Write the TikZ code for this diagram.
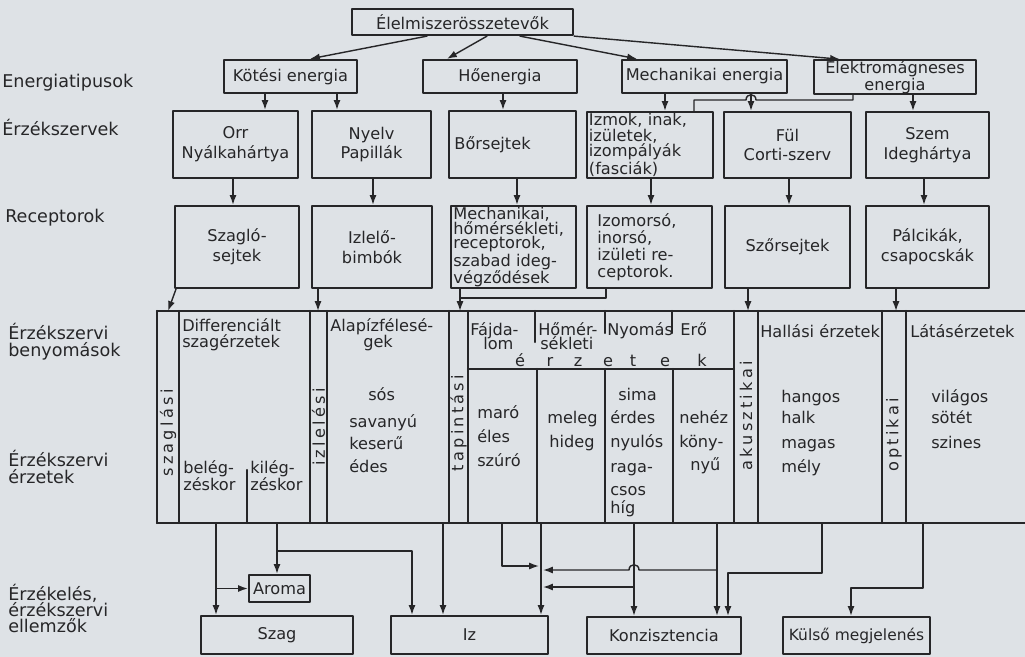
\documentclass[tikz,border=0pt]{standalone}
\usepackage{fontspec}
\setmainfont{DejaVu Sans}
\newfontfamily\spreadfont[LetterSpace=20]{DejaVu Sans}
\usetikzlibrary{arrows.meta}
\definecolor{paper}{RGB}{222,226,230}
\definecolor{ink}{RGB}{38,38,40}

\begin{document}
\begin{tikzpicture}[x=0.025cm, y=-0.025cm, line cap=round, line join=round,
    >={Latex[length=7pt,width=5pt]}, color=ink,
    font=\fontsize{11.5}{14}\selectfont,
    box/.style={draw, line width=1.6pt, inner sep=0pt, align=center},
    spanbox/.style n args={4}{at={({(#1+#3)/2},{(#2+#4)/2})},
      minimum width={(#3-#1)*0.025cm}, minimum height={(#4-#2)*0.025cm}},
    conn/.style={line width=1pt},
    band/.style={line width=1.6pt},
    txt/.style={anchor=base west, inner sep=0pt},
    side/.style={anchor=base west, inner sep=0pt, font=\fontsize{12.5}{14}\selectfont},
    vert/.style={rotate=90, inner sep=0pt, font=\spreadfont\fontsize{11.5}{14}\selectfont}]

    \path[use as bounding box, fill=paper] (0,0) rectangle (1025,657);

    % row labels
    \node[side] (l1) at (2,88) {Energiatipusok};
    \node[side] (l2) at (2,136) {Érzékszervek};
    \node[side] (l3) at (5,222) {Receptorok};
    \node[side] (l4a) at (8,339) {Érzékszervi};
    \node[side] (l4b) at (8,356) {benyomások};
    \node[side] (l5a) at (8,466) {Érzékszervi};
    \node[side] (l5b) at (8,483) {érzetek};
    \node[side] (l6a) at (8,600) {Érzékelés,};
    \node[side] (l6b) at (8,616) {érzékszervi};
    \node[side] (l6c) at (8,632) {ellemzők};

    % sources and energies
    \node[box, spanbox={352}{9}{573}{35}] (elem) {Élelmiszerösszetevők};
    \node[box, spanbox={224}{60}{357}{93}] (kotesi) {Kötési energia};
    \node[box, spanbox={423}{60}{577}{93}] (hoen) {Hőenergia};
    \node[box, spanbox={622}{60}{787}{93}] (mech) {Mechanikai energia};
    \node[box, spanbox={814}{61}{976}{93}, font=\fontsize{11.5}{11}\selectfont] (elektro) {Elektromágneses\\energia};

    % sense organs
    \node[box, spanbox={173}{111}{298}{178}] (orr) {Orr\\Nyálkahártya};
    \node[box, spanbox={312}{111}{431}{178}] (nyelv) {Nyelv\\Papillák};
    \node[box, spanbox={449}{111}{576}{178}, text width=2.9cm, align=left] (bor) {Bőrsejtek};
    \node[box, spanbox={587}{112}{713}{178}, text width=3.05cm, align=left,
      font=\fontsize{11.5}{11.2}\selectfont] (izmok) {Izmok, inak,\\izületek,\\izompályák\\(fasciák)};
    \node[box, spanbox={724}{112}{851}{178}] (ful) {Fül\\Corti-szerv};
    \node[box, spanbox={866}{112}{989}{178}] (szem) {Szem\\Ideghártya};

    % receptors
    \node[box, spanbox={175}{206}{299}{288}] (szaglo) {Szagló-\\sejtek};
    \node[box, spanbox={312}{206}{432}{288}] (izlelo) {Izlelő-\\bimbók};
    \node[box, spanbox={451}{206}{576}{288}, text width=3.0cm, align=left,
      font=\fontsize{11.5}{10.6}\selectfont] (mechrec) {Mechanikai,\\hőmérsékleti,\\receptorok,\\szabad ideg-\\végződések};
    \node[box, spanbox={587}{206}{712}{288}, text width=2.6cm, align=left,
      font=\fontsize{11.5}{12}\selectfont] (izomorso) {Izomorsó,\\inorsó,\\izületi re-\\ceptorok.};
    \node[box, spanbox={725}{206}{850}{288}] (szor) {Szőrsejtek};
    \node[box, spanbox={866}{206}{989}{288}] (palc) {Pálcikák,\\csapocskák};

    % outputs
    \node[box, spanbox={249}{575}{310}{602}] (aroma) {Aroma};
    \node[box, spanbox={201}{616}{353}{654}] (szag) {Szag};
    \node[box, spanbox={391}{616}{548}{654}] (iz) {Iz};
    \node[box, spanbox={587}{617}{741}{654}] (konz) {Konzisztencia};
    \node[box, spanbox={783}{617}{930}{654}, font=\fontsize{11}{14}\selectfont] (kulso) {Külső megjelenés};

    % impression / sensation band
    \coordinate (bt) at (0,311);
    \coordinate (bb) at (0,523);
    \draw[band] (157,311) -- (1025,311);
    \draw[band] (157,523) -- (1025,523);
    \foreach \x in {157,179,310,327,449,468,734,758,882,906}
      \draw[band] (\x,311) -- (\x,523);
    \draw[band] (468,369) -- (734,369);
    \foreach \x in {537,605,673}
      \draw[band] (\x,369) -- (\x,523);
    \draw[band] (247,470) -- (247,523);
    \draw[band] (535,311) -- (535,342);
    \draw[band] (605,311) -- (605,333);
    \draw[band] (672,311) -- (672,333);

    \node[vert] (szl) at (168,433) {szaglási};
    \node[vert] (izl) at (318.5,427) {izlelési};
    \node[vert] (tap) at (458.5,423) {tapintási};
    \node[vert] (aku) at (746,416) {akusztikai};
    \node[vert] (opt) at (894,435) {optikai};

    \node[txt] (dif1) at (182,331) {Differenciált};
    \node[txt] (dif2) at (182,347) {szagérzetek};
    \node[txt] (bel1) at (183,473) {belég-};
    \node[txt] (bel2) at (183,490) {zéskor};
    \node[txt] (kil1) at (250,473) {kilég-};
    \node[txt] (kil2) at (250,490) {zéskor};

    \node[txt] (alp1) at (330,331) {Alapízfélesé-};
    \node[txt] (alp2) at (363,347) {gek};
    \node[txt] (sos) at (368,400) {sós};
    \foreach \w/\yy [count=\i] in {savanyú/427,keserű/449,édes/472}
      \node[txt] (alap\i) at (349,\yy) {\w};

    \node[txt] (faj1) at (470,335) {Fájda-};
    \node[txt] (faj2) at (483,349) {lom};
    \node[txt] (hom1) at (538,335) {Hőmér-};
    \node[txt] (hom2) at (540,349) {sékleti};
    \node[txt] (nyom) at (607,335) {Nyomás};
    \node[txt] (ero) at (680,335) {Erő};
    \foreach \ch/\cx [count=\i] in {é/520,r/550,z/578,e/608,t/633,e/665,k/702}
      \node[anchor=base, inner sep=0pt] (erz\i) at (\cx,366) {\ch};

    \foreach \w/\yy [count=\i] in {maró/418,éles/442,szúró/466}
      \node[txt] (fajd\i) at (477,\yy) {\w};
    \node[txt] (mel1) at (547,423) {meleg};
    \node[txt] (mel2) at (549,447) {hideg};
    \node[txt] (sima) at (618,400) {sima};
    \foreach \w/\yy [count=\i] in {érdes/423,nyulós/447,raga-/472,csos/495,híg/513}
      \node[txt] (nyo\i) at (610,\yy) {\w};
    \node[txt] (neh1) at (679,423) {nehéz};
    \node[txt] (neh2) at (679,447) {köny-};
    \node[txt] (neh3) at (690,470) {nyű};

    \node[txt] (hall) at (760,337) {Hallási érzetek};
    \foreach \w/\yy [count=\i] in {hangos/402,halk/423,magas/448,mély/472}
      \node[txt] (hang\i) at (781,\yy) {\w};
    \node[txt] (latas) at (910,337) {Látásérzetek};
    \foreach \w/\yy [count=\i] in {világos/402,sötét/423,szines/448}
      \node[txt] (vil\i) at (931,\yy) {\w};

    % top connectors
    \draw[conn,->] (elem.south -| 427,0) -- (kotesi.north -| 310,0);
    \draw[conn,->] (elem.south -| 487,0) -- (hoen.north -| 447,0);
    \draw[conn,->] (elem.south -| 520,0) -- (mech.north -| 637,0);
    \draw[conn,->] (elem.south east) -- (elektro.north -| 840,0);

    \draw[conn,->] (kotesi.south -| 265,0) -- (orr.north -| 265,0);
    \draw[conn,->] (kotesi.south -| 337,0) -- (nyelv.north -| 337,0);
    \draw[conn,->] (hoen.south -| 503,0) -- (bor.north -| 503,0);
    \draw[conn,->] (mech.south -| 665,0) -- (izmok.north -| 665,0);
    \draw[conn,->] (mech.south -| 751,0) -- (ful.north -| 751,0);
    \draw[conn,->] (elektro.south -| 913,0) -- (szem.north -| 913,0);
    \draw[conn] (elektro.south -| 853,0) -- (853,100) -- (756,100)
      .. controls (756,93) and (746,93) .. (746,100) -- (694,100) -- (izmok.north -| 694,0);

    \draw[conn,->] (orr.south -| 233,0) -- (szaglo.north -| 233,0);
    \draw[conn,->] (nyelv.south -| 373,0) -- (izlelo.north -| 373,0);
    \draw[conn,->] (bor.south -| 517,0) -- (mechrec.north -| 517,0);
    \draw[conn,->] (izmok.south -| 651,0) -- (izomorso.north -| 651,0);
    \draw[conn,->] (ful.south -| 789,0) -- (szor.north -| 789,0);
    \draw[conn,->] (szem.south -| 924,0) -- (palc.north -| 924,0);

    % receptors to band
    \draw[conn,->] (szaglo.south -| 176,0) -- (bt -| 168,0);
    \draw[conn,->] (izlelo.south -| 318,0) -- (bt -| 318,0);
    \draw[conn,->] (mechrec.south -| 460,0) -- (bt -| 460,0);
    \draw[conn] (izomorso.south -| 606,0) |- (460,298);
    \draw[conn,->] (szor.south -| 748,0) -- (bt -| 748,0);
    \draw[conn,->] (palc.south -| 896,0) -- (bt -| 896,0);

    % band to outputs
    \draw[conn,->] (bb -| 216,0) -- (szag.north -| 216,0);
    \draw[conn,->] (aroma.west -| 216,0) -- (aroma.west);
    \draw[conn,->] (bb -| 277,0) -- (aroma.north -| 277,0);
    \draw[conn,->] (277,551) -| (iz.north -| 412,0);
    \draw[conn,->] (bb -| 443,0) -- (iz.north -| 443,0);
    \draw[conn,->] (bb -| 502,0) |- (539,566);
    \draw[conn,->] (bb -| 541,0) -- (iz.north -| 541,0);
    \draw[conn,->] (bb -| 634,0) -- (konz.north -| 634,0);
    \draw[conn,->] (634,587) -- (543,587);
    \draw[conn,->] (bb -| 717,0) -- (konz.north -| 717,0);
    \draw[conn,->] (717,570) -- (639,570) .. controls (639,563) and (629,563) .. (629,570) -- (543,570);
    \draw[conn,->] (bb -| 822,0) -- (822,573) -| (konz.north -| 728,0);
    \draw[conn,->] (bb -| 923,0) -- (923,588) -| (kulso.north -| 851,0);
\end{tikzpicture}
\end{document}
